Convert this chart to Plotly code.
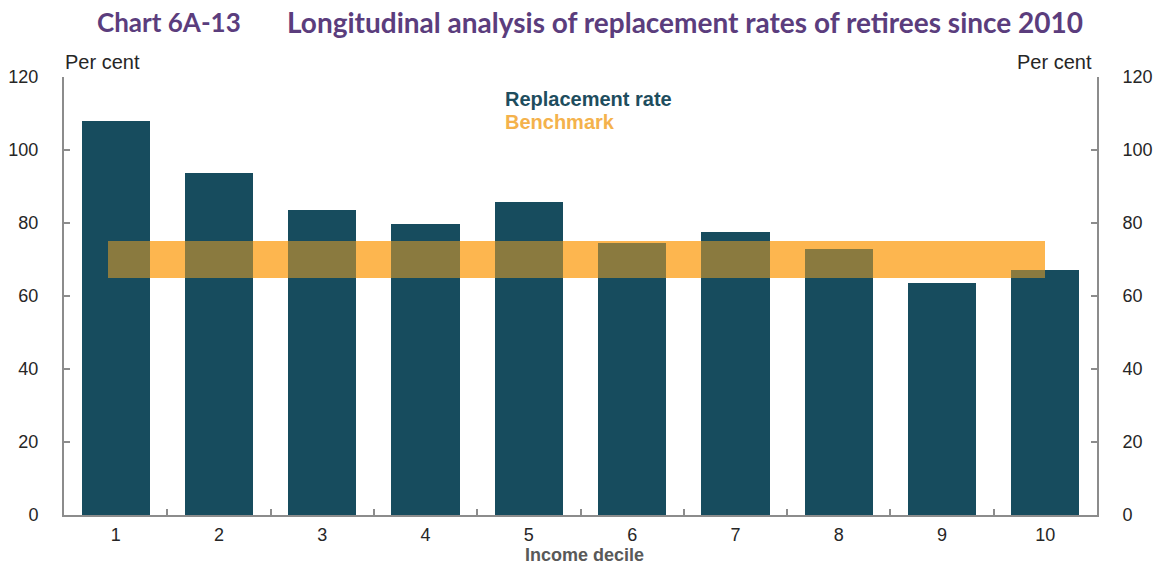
import plotly.graph_objects as go

# ---- data ----
deciles = [1, 2, 3, 4, 5, 6, 7, 8, 9, 10]
replacement_rate = [108.0, 93.7, 83.6, 79.6, 85.8, 74.5, 77.4, 73.0, 63.5, 67.0]
benchmark_low = 65
benchmark_high = 75
benchmark_start = 0.93
benchmark_end = 10.0
y_ticks = [0, 20, 40, 60, 80, 100, 120]

# ---- styling ----
TEAL = "#174C5E"
ORANGE = "#FDB64F"
OLIVE = "#8A7A3F"
AXIS = "#8C8C8C"
TXT = "#262626"
PURPLE = "#5B3D7D"
FONT = "Liberation Sans, Arial, sans-serif"
BAR_W = 0.66

fig = go.Figure()

# replacement-rate bars
fig.add_trace(go.Bar(x=deciles, y=replacement_rate, width=BAR_W,
                     marker=dict(color=TEAL, line=dict(width=0)),
                     name="Replacement rate", showlegend=False))

# benchmark band
fig.add_trace(go.Bar(x=[(benchmark_start + benchmark_end) / 2],
                     base=[benchmark_low], y=[benchmark_high - benchmark_low],
                     width=[benchmark_end - benchmark_start],
                     marker=dict(color=ORANGE, line=dict(width=0)),
                     name="Benchmark", showlegend=False))

# overlap of band and bars (blended colour)
ox, ow, oy = [], [], []
for d, v in zip(deciles, replacement_rate):
    left = max(d - BAR_W / 2, benchmark_start)
    right = min(d + BAR_W / 2, benchmark_end)
    top = min(v, benchmark_high)
    if right > left and top > benchmark_low:
        ox.append((left + right) / 2)
        ow.append(right - left)
        oy.append(top - benchmark_low)
fig.add_trace(go.Bar(x=ox, y=oy, width=ow, base=[benchmark_low] * len(ox),
                     marker=dict(color=OLIVE, line=dict(width=0)),
                     showlegend=False, hoverinfo="skip"))

# invisible trace to activate right axis
fig.add_trace(go.Scatter(x=deciles, y=replacement_rate, yaxis="y2", mode="lines",
                         line=dict(width=0), opacity=0, showlegend=False, hoverinfo="skip"))

axis_common = dict(range=[0, 120], tickvals=y_ticks, ticks="inside", ticklen=6,
                   tickwidth=2, tickcolor=AXIS, showline=True, linecolor=AXIS,
                   linewidth=2, showgrid=False, zeroline=False, automargin=False,
                   tickfont=dict(family=FONT, size=18, color=TXT),
                   ticklabelstandoff=20)

fig.update_layout(
    width=1156, height=567,
    margin=dict(l=64, r=59, t=77, b=52, autoexpand=False),
    paper_bgcolor="white", plot_bgcolor="white",
    barmode="overlay", bargap=0,
    showlegend=False,
    xaxis=dict(range=[0.5, 10.5], tickvals=deciles, ticktext=[str(d) for d in deciles],
               ticks="", showline=True, linecolor=AXIS, linewidth=2, showgrid=False,
               zeroline=False, automargin=False,
               tickfont=dict(family=FONT, size=18, color=TXT),
               ticklabelstandoff=2,
               minor=dict(tickvals=[d + 0.5 for d in deciles[:-1]], ticks="inside",
                          ticklen=6, tickwidth=2, tickcolor=AXIS, showgrid=False)),
    yaxis=dict(side="left", **axis_common),
    yaxis2=dict(side="right", overlaying="y", **axis_common),
)

def px_x(x):
    return (x - 64) / 1033

def px_y(y):
    return (515 - y) / 438

ann = [
    dict(text="<b>Chart 6A-13</b>", x=px_x(95), y=px_y(22), xanchor="left", yanchor="middle",
         font=dict(family="Lato, sans-serif", size=26, color=PURPLE)),
    dict(text="<b>Longitudinal analysis of replacement rates of retirees since 2010</b>",
         x=px_x(285), y=px_y(22), xanchor="left", yanchor="middle",
         font=dict(family="Lato, sans-serif", size=28, color=PURPLE)),
    dict(text="Per cent", x=px_x(63), y=px_y(62), xanchor="left", yanchor="middle",
         font=dict(family=FONT, size=20, color=TXT)),
    dict(text="Per cent", x=px_x(1094), y=px_y(62), xanchor="right", yanchor="middle",
         font=dict(family=FONT, size=20, color=TXT)),
    dict(text="<b>Replacement rate</b>", x=px_x(503), y=px_y(99), xanchor="left", yanchor="middle",
         font=dict(family=FONT, size=20, color="#1E4D5E")),
    dict(text="<b>Benchmark</b>", x=px_x(503), y=px_y(122), xanchor="left", yanchor="middle",
         font=dict(family=FONT, size=20, color="#F4B24C")),
    dict(text="<b>Income decile</b>", x=px_x(584), y=px_y(567), xanchor="center", yanchor="bottom",
         font=dict(family=FONT, size=18, color="#595959")),
]
for a in ann:
    a.update(xref="paper", yref="paper", showarrow=False)
fig.update_layout(annotations=ann)

fig.write_html("out.html", config={"displayModeBar": False},
               post_script="document.body.style.margin='0';document.body.style.overflow='hidden';")
